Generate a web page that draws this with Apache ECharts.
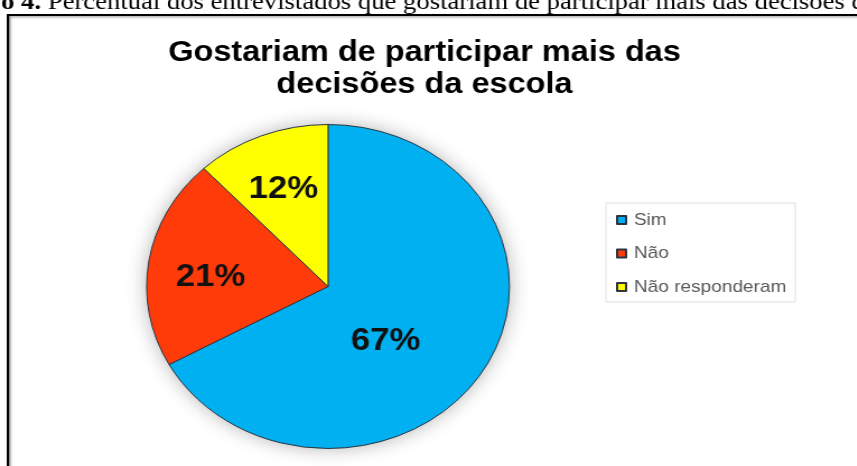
<!DOCTYPE html>
<html>
<head>
<meta charset="utf-8">
<script src="https://cdn.jsdelivr.net/npm/echarts@6/dist/echarts.min.js"></script>
<style>
  html, body { margin: 0; padding: 0; background: #fff; overflow: hidden; }
  #wrap { width: 857px; height: 466px; overflow: hidden; }
  #chart { width: 766px; height: 466px; transform: scaleX(1.12); transform-origin: 0 0; }
</style>
</head>
<body>
<div id="wrap"><div id="chart"></div></div>
<script>
// ---- data ----
const categories = ['Sim', 'Não', 'Não responderam'];
const values = [67, 21, 12];
const chartTitle = 'Gostariam de participar mais das\ndecisões da escola';
const captionBold = 'o 4.';
const captionText = ' Percentual dos entrevistados que gostariam de participar mais das decisões d';

// ---- styles ----
const colors = ['#00B0F0', '#FF3B0A', '#FFFF00'];
const labelShift = [[-21, 12], [-22, 4], [-9, -19]];

const chart = echarts.init(document.getElementById('chart'), null, { renderer: 'canvas' });
const total = values.reduce((a, b) => a + b, 0);

chart.setOption({
  animation: false,
  backgroundColor: '#fff',
  title: {
    text: chartTitle,
    left: 374,
    textAlign: 'center',
    top: 31.5,
    textStyle: { fontFamily: 'Liberation Sans', fontSize: 29, fontWeight: 'bold', lineHeight: 32, color: '#000' }
  },
  graphic: [
    {
      type: 'rect', z: 0, silent: true,
      shape: { x: 7.1, y: 15, width: 820, height: 520 },
      style: { fill: 'none', stroke: '#000', lineWidth: 2.2, shadowBlur: 2, shadowColor: 'rgba(0,0,0,0.35)', shadowOffsetX: 1.5, shadowOffsetY: 1.5 }
    },
    {
      type: 'text', z: 5, silent: true, x: 1, y: 2.5,
      style: {
        text: '{b|' + captionBold + '}' + captionText,
        font: '23.8px "Liberation Serif"',
        fill: '#000',
        verticalAlign: 'middle',
        rich: { b: { fontWeight: 'bold', fontFamily: 'Liberation Serif', fontSize: 23.8 } }
      }
    }
  ],
  legend: {
    orient: 'vertical',
    left: 541, top: 203,
    data: categories,
    icon: 'rect',
    itemWidth: 8, itemHeight: 8,
    itemGap: 13.5,
    padding: [7, 8, 5, 9],
    borderColor: '#e0e0e0', borderWidth: 1,
    selectedMode: false,
    textStyle: { fontFamily: 'Liberation Sans', fontSize: 17, color: '#595959', lineHeight: 20, padding: [0, 0, 0, 2] }
  },
  series: [
    {
      type: 'pie', silent: true, z: 1,
      center: [292.9, 286.5], radius: 162,
      label: { show: false }, labelLine: { show: false },
      itemStyle: { color: '#fff', shadowBlur: 18, shadowColor: 'rgba(0,0,0,0.3)' },
      data: [{ name: '', value: total }]
    },
    {
      type: 'pie', z: 2,
      center: [292.9, 286.5], radius: 162,
      startAngle: 90, clockwise: true,
      color: colors,
      itemStyle: { borderColor: '#2b3440', borderWidth: 1 },
      label: {
        show: true, position: 'inside',
        formatter: p => p.value + '%',
        fontFamily: 'Liberation Sans', fontSize: 31, fontWeight: 'bold', color: '#111'
      },
      labelLayout: p => ({ dx: labelShift[p.dataIndex][0], dy: labelShift[p.dataIndex][1] }),
      emphasis: { disabled: true },
      data: categories.map((c, i) => ({ name: c, value: values[i] }))
    }
  ]
});
</script>
</body>
</html>
